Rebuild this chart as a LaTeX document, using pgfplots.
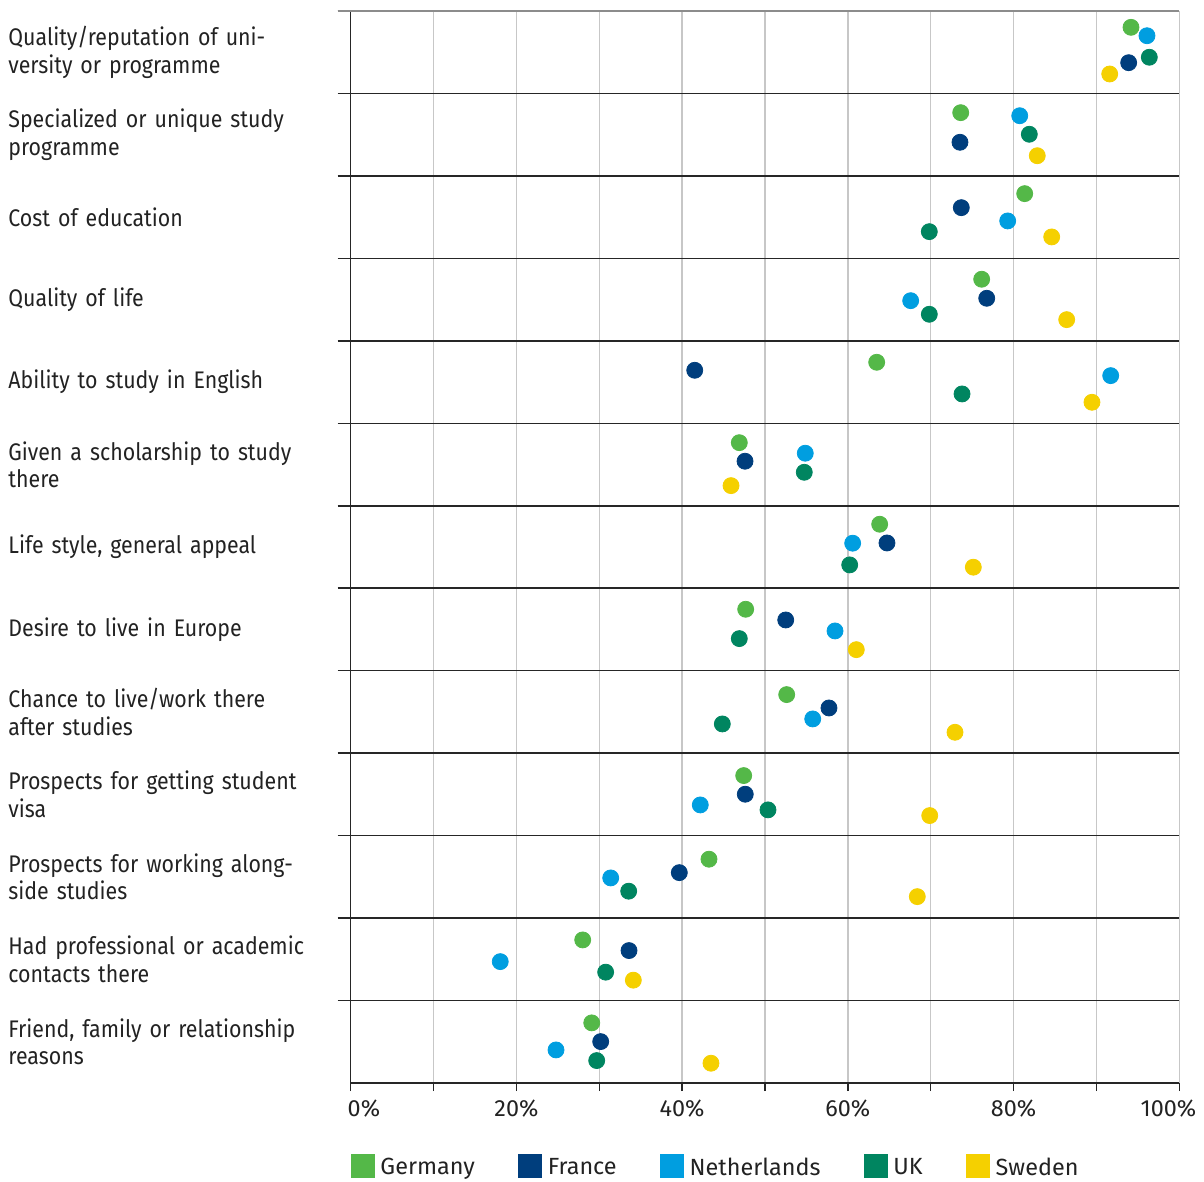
\documentclass[border=0pt]{standalone}
\usepackage{fontspec}
\setmainfont{Fira Sans}
\newfontfamily\lblfam[FakeStretch=0.89]{Fira Sans}
\usepackage{pgfplots}
\pgfplotsset{compat=1.18}
\usepackage{pgfplotstable}

\definecolor{cGer}{HTML}{54B848}
\definecolor{cFra}{HTML}{003E7D}
\definecolor{cNed}{HTML}{009EE0}
\definecolor{cUK}{HTML}{008560}
\definecolor{cSwe}{HTML}{F5D000}
\definecolor{txt}{HTML}{222222}

\pgfplotstableread{
x y
94.17 12.802
73.62 11.767
81.34 10.785
76.15 9.747
63.48 8.740
46.90 7.765
63.84 6.776
47.67 5.745
52.62 4.710
47.43 3.728
43.24 2.714
28.00 1.735
29.09 0.729
}\germany

\pgfplotstableread{
x y
93.89 12.373
73.53 11.408
73.69 10.615
76.76 9.516
41.52 8.643
47.59 7.540
64.72 6.549
52.50 5.615
57.72 4.548
47.62 3.502
39.66 2.551
33.59 1.606
30.17 0.502
}\france

\pgfplotstableread{
x y
96.10 12.700
80.74 11.730
79.29 10.454
67.58 9.487
91.72 8.578
54.86 7.637
60.58 6.546
58.45 5.482
55.76 4.415
42.19 3.372
31.38 2.487
18.05 1.472
24.78 0.401
}\netherlands

\pgfplotstableread{
x y
96.38 12.439
81.90 11.505
69.83 10.324
69.83 9.322
73.78 8.356
54.74 7.406
60.22 6.283
46.90 5.389
44.85 4.354
50.36 3.312
33.55 2.326
30.77 1.344
29.69 0.272
}\uk

\pgfplotstableread{
x y
91.60 12.236
82.86 11.245
84.60 10.260
86.41 9.257
89.46 8.255
45.90 7.244
75.14 6.255
61.02 5.255
72.93 4.253
69.88 3.243
68.38 2.260
34.11 1.247
43.48 0.240
}\sweden

\newcommand{\lblfont}{\fontsize{11.7}{13.3}\selectfont}
\newcommand{\ylblfont}{\lblfam\fontsize{12}{13.7}\selectfont}

\begin{document}
\begin{tikzpicture}
\begin{axis}[
  name=ax,
  scale only axis,
  width=414.3pt, height=536pt,
  xmin=0, xmax=100, ymin=0, ymax=13,
  axis x line*=bottom, axis y line*=left,
  axis line style={-, black!85, line width=0.75pt},
  xtick={0,10,...,100},
  xticklabels={{\makebox[0pt][l]{\hspace{-1.5pt}0\%}},,20\%,,40\%,,60\%,,80\%,,{\makebox[0pt][r]{100\%\hspace{-8.5pt}}}},
  xmajorgrids,
  major grid style={black!22, line width=0.75pt},
  tick align=outside,
  major tick length=4pt,
  minor tick length=6.5pt,
  major x tick style={black!85, line width=0.75pt},
  xticklabel style={font=\lblfont, text=txt, anchor=north, yshift=-1pt},
  ytick={0.5,1.5,...,12.5},
  yticklabels={
    {Friend, family or relationship\\reasons},
    {Had professional or academic\\contacts there},
    {Prospects for working along-\\side studies},
    {Prospects for getting student\\visa},
    {Chance to live/work there\\after studies},
    {Desire to live in Europe},
    {Life style, general appeal},
    {Given a scholarship to study\\there},
    {Ability to study in English},
    {Quality of life},
    {Cost of education},
    {Specialized or unique study\\programme},
    {Quality/reputation of uni-\\versity or programme}},
  major y tick style={draw=none},
  yticklabel style={font=\ylblfont, text=txt, anchor=west, align=left, text width=165pt, inner sep=0pt, xshift=-167.35pt},
  minor ytick={1,...,13},
  yminorgrids,
  minor grid style={black!85, line width=0.75pt},
  minor y tick style={black!85, line width=0.75pt},
  legend image code/.code={\fill (0pt,-4.75pt) rectangle (11.5pt,6.75pt);},
  legend style={at={(axis description cs:0,0)}, anchor=north west, yshift=-35.25pt,
    draw=none, fill=none, inner sep=0pt, outer sep=0pt,
    font=\lblfont, text=txt, legend cell align=left,
    /tikz/every odd column/.append style={column sep=1pt},
    /tikz/every even column/.append style={column sep=19.6pt}},
  legend columns=5,
]
\addplot[only marks, mark=*, mark size=4pt, color=cGer] table[x=x,y=y] {\germany};
\addlegendentry{Germany}
\addplot[only marks, mark=*, mark size=4pt, color=cFra] table[x=x,y=y] {\france};
\addlegendentry{France}
\addplot[only marks, mark=*, mark size=4pt, color=cNed] table[x=x,y=y] {\netherlands};
\addlegendentry{Netherlands}
\addplot[only marks, mark=*, mark size=4pt, color=cUK] table[x=x,y=y] {\uk};
\addlegendentry{UK}
\addplot[only marks, mark=*, mark size=4pt, color=cSwe] table[x=x,y=y] {\sweden};
\addlegendentry{Sweden}
\end{axis}
\draw[black!45, line width=0.75pt] ([xshift=-6.5pt]ax.north west) -- (ax.north east);
\pgfresetboundingbox
\path ([xshift=-175.35pt,yshift=-49.5pt]ax.south west) rectangle ([xshift=12.35pt,yshift=5.5pt]ax.north east);
\end{tikzpicture}
\end{document}
